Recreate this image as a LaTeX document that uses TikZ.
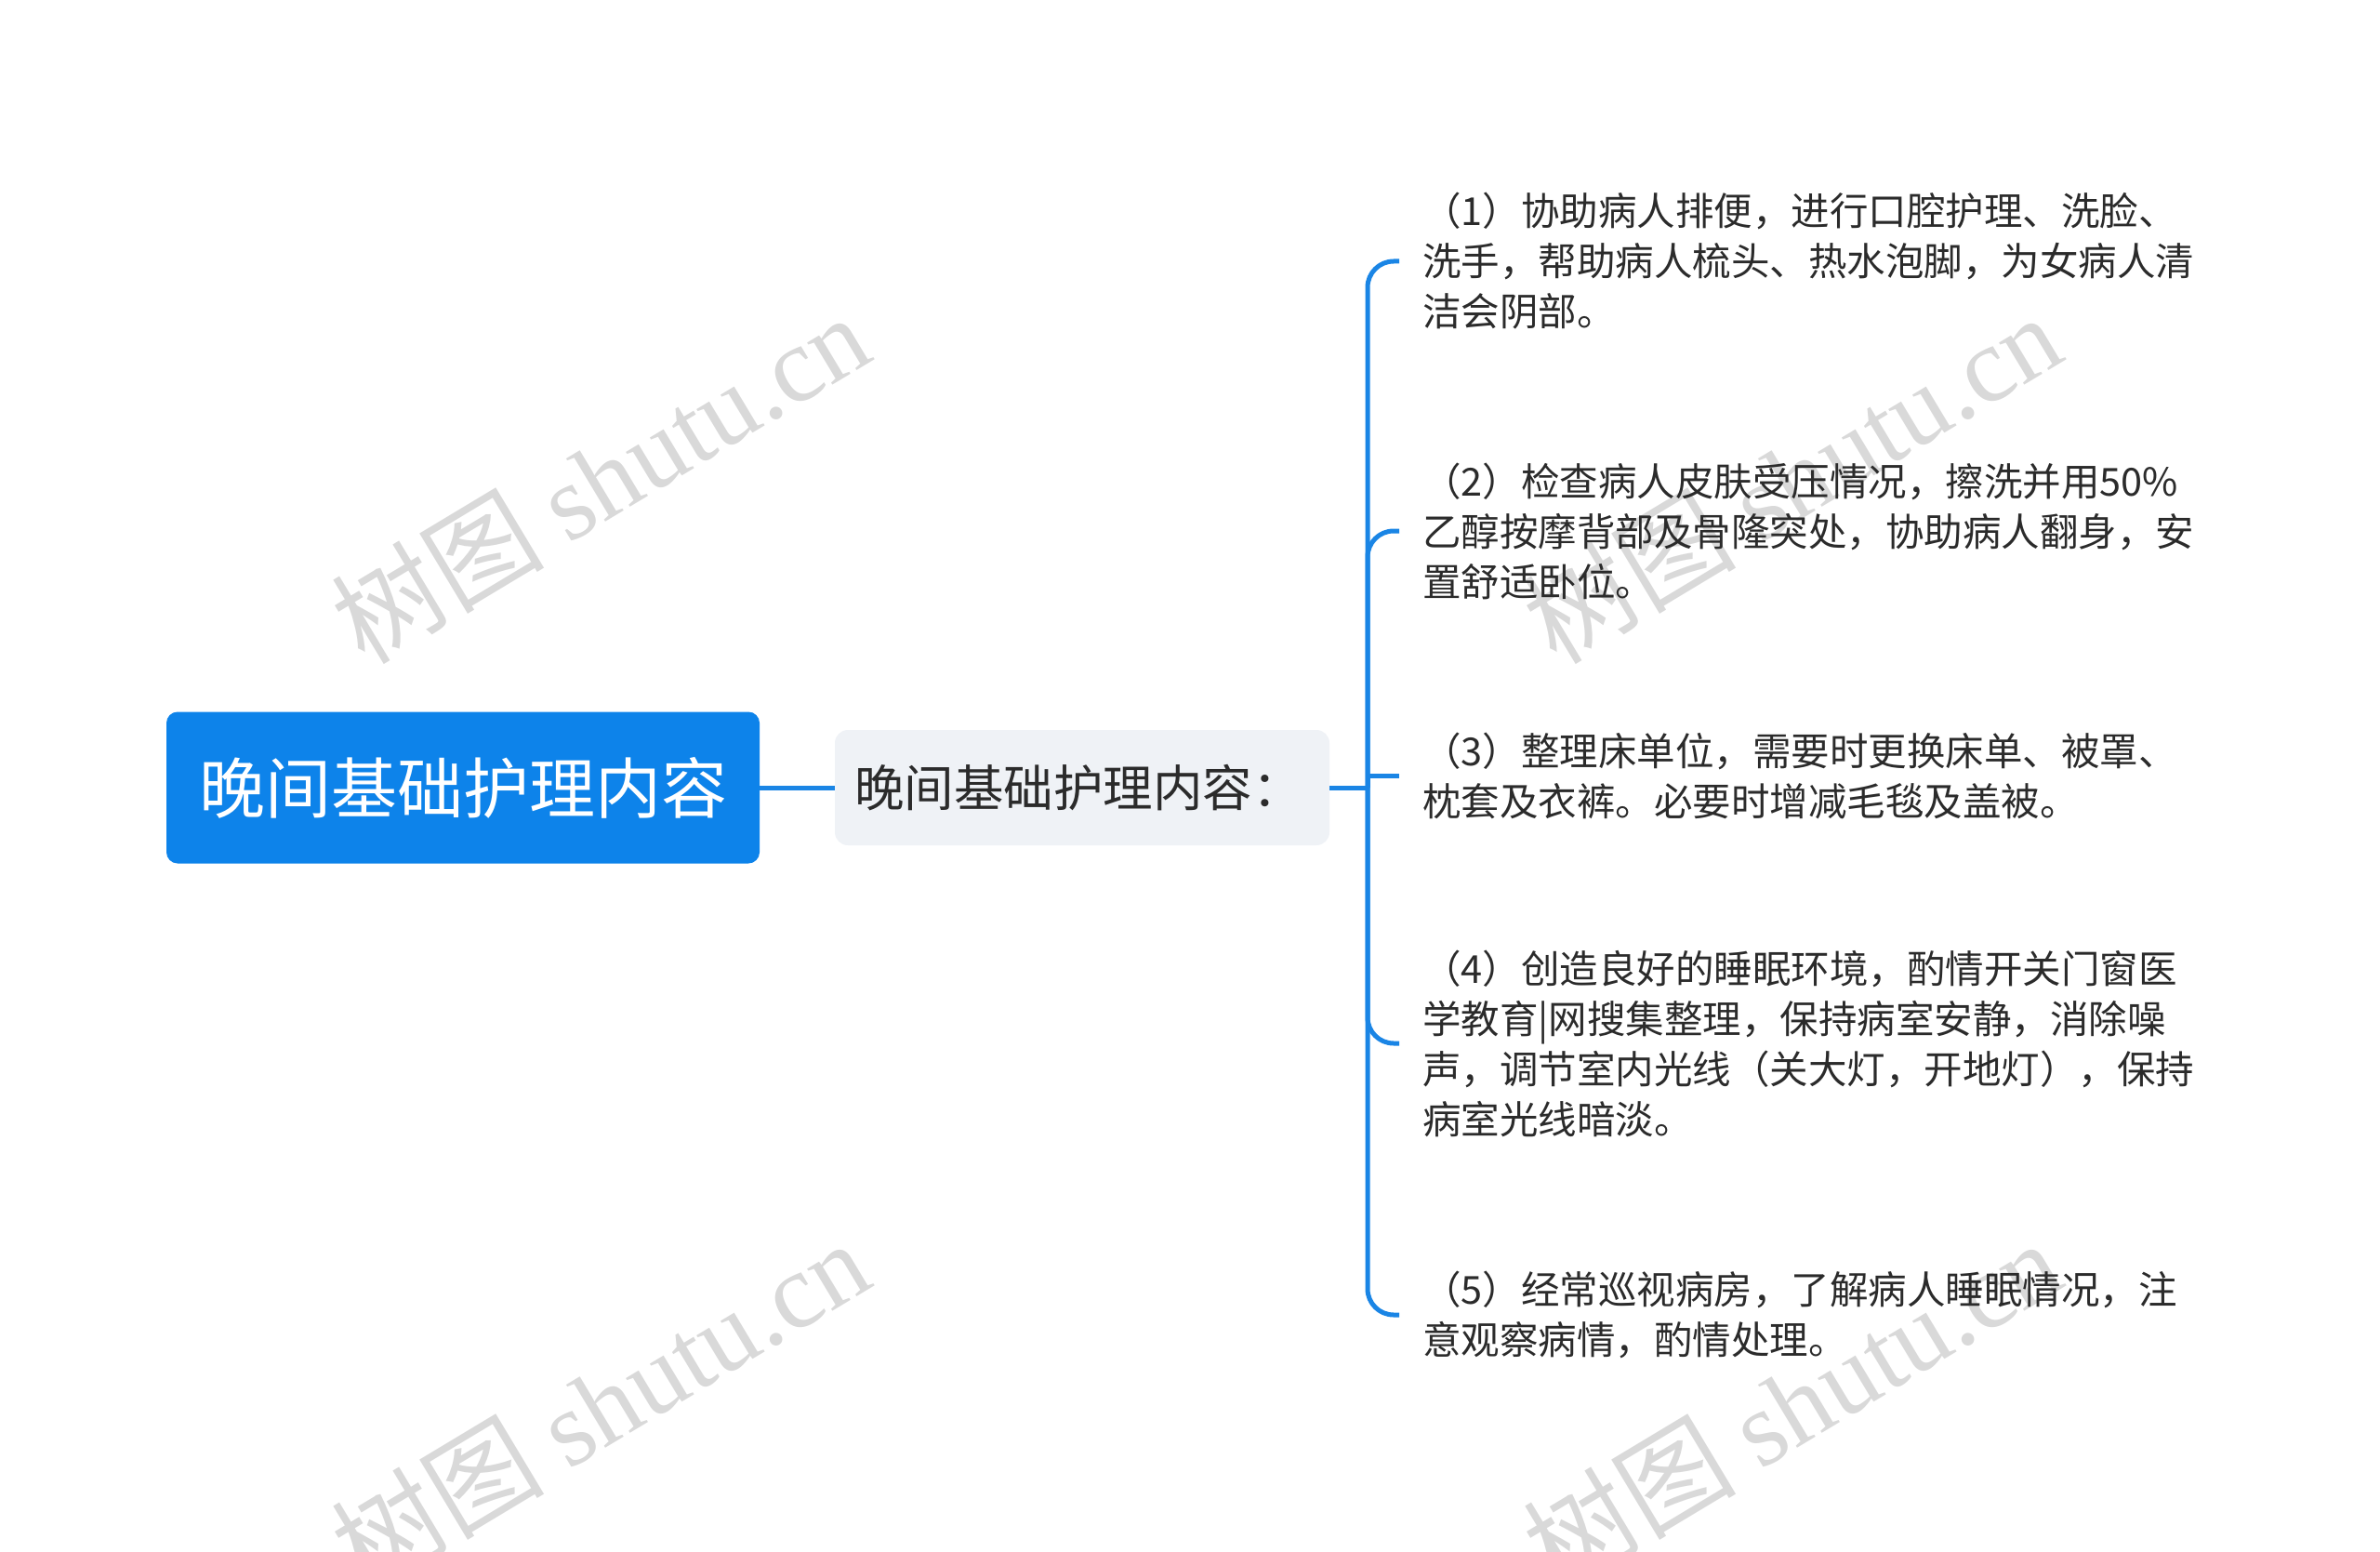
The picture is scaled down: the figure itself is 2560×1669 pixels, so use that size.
\documentclass[tikz,border=0pt]{standalone}
\usepackage{fontspec}
\setmainfont{Noto Sans CJK SC}
\newfontfamily\wmserif{Liberation Serif}
\definecolor{mainblue}{HTML}{0D83EA}
\definecolor{linkblue}{HTML}{1A85E5}
\definecolor{subgray}{HTML}{EFF2F6}
\definecolor{txt}{HTML}{2B2B2B}
\definecolor{wm}{HTML}{D9D9D9}
\begin{document}
\begin{tikzpicture}[x=1pt,y=-1pt,
  rootbox/.style={fill=mainblue, rounded corners=12pt, minimum width=638pt, minimum height=163pt, text=white, font=\fontsize{71}{80}\selectfont, inner sep=0pt},
  subbox/.style={fill=subgray, rounded corners=14pt, minimum width=532pt, minimum height=124pt, text=txt, font=\fontsize{53.5}{60}\selectfont, inner sep=0pt},
  leaf/.style={anchor=west, align=left, text=txt, font=\fontsize{41.5}{54}\selectfont, inner xsep=25pt, inner ysep=0pt},
  link/.style={draw=linkblue, line width=5pt},
  wmark/.style={text=wm, rotate=31, font=\fontsize{115}{120}\selectfont}
]
\useasboundingbox (0,0) rectangle (2560,1669);
% watermarks
\node[wmark] (w1) at (645,514) {树图 {\wmserif shutu.cn}};
\node[wmark] (w2) at (1927,514) {树图 {\wmserif shutu.cn}};
\node[wmark] (w3) at (645,1510) {树图 {\wmserif shutu.cn}};
\node[wmark] (w4) at (1927,1510) {树图 {\wmserif shutu.cn}};
% nodes
\node[rootbox] (root) at (498,847) {晚间基础护理内容};
\node[subbox] (sub) at (1164,847) {\hspace*{-8pt}晚间基础护理内容：};
\coordinate (hub) at (1471,847);
\node[leaf] (l1) at (1505,281) {（1）协助病人排便，进行口腔护理、洗脸、\\洗手，帮助病人梳头、热水泡脚，为女病人清\\洁会阴部。};
\node[leaf] (l2) at (1505,571) {（2）检查病人皮肤受压情况，擦洗并用50\%\\乙醇按摩背部及骨隆突处，协助病人翻身，安\\置舒适卧位。};
\node[leaf] (l3) at (1505,834) {（3）整理床单位，需要时更换床单、被罩、\\枕套及衣裤。必要时增减毛毯及盖被。};
\node[leaf] (l4) at (1505,1122) {（4）创造良好的睡眠环境，酌情开关门窗医\\学教育|网搜集整理，保持病室安静，消除噪\\声，调节室内光线（关大灯，开地灯），保持\\病室光线暗淡。};
\node[leaf] (l5) at (1505,1414) {（5）经常巡视病房，了解病人睡眠情况，注\\意观察病情，酌情处理。};
% connectors
\draw[link] (root.east) -- (sub.west);
\draw[link] (sub.east) -- (hub);
\draw[link, rounded corners=28pt] (hub) |- (l1.west);
\draw[link, rounded corners=28pt] (hub) |- (l2.west);
\draw[link] (hub) |- (l3.west);
\draw[link, rounded corners=28pt] (hub) |- (l4.west);
\draw[link, rounded corners=28pt] (hub) |- (l5.west);
\end{tikzpicture}
\end{document}
